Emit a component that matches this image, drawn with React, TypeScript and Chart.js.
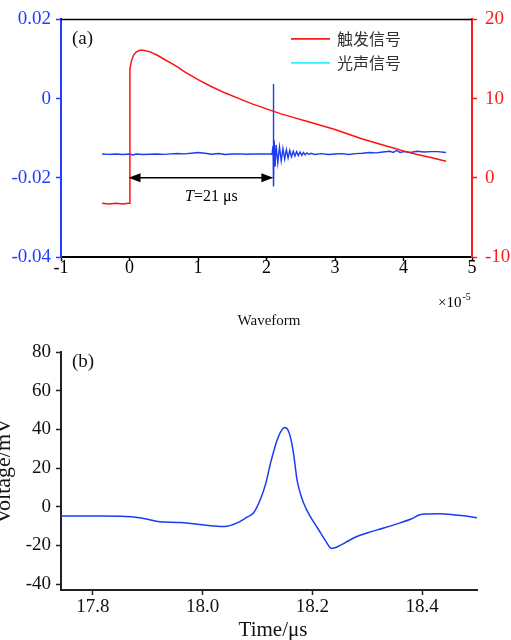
import React, { useEffect, useRef } from "react";
import { Chart, registerables } from "chart.js";

Chart.register(...registerables);

const SERIF = '"Liberation Serif", "Times New Roman", serif';
const CJK = '"Noto Sans CJK SC", "Noto Sans", sans-serif';

// ---------- Panel (a) data (x in units of 1e-5 s) ----------
const triggerX = [-0.4, -0.3, -0.2, -0.1, -0.01, 0.0, 0.006, 0.03, 0.06, 0.1, 0.15, 0.2, 0.3, 0.4, 0.5, 0.6, 0.7, 0.8, 0.9, 1.0, 1.2, 1.4, 1.6, 1.8, 2.0, 2.2, 2.4, 2.6, 2.8, 3.0, 3.2, 3.4, 3.6, 3.8, 4.0, 4.2, 4.4, 4.62];
const triggerY = [-3.2, -3.3, -3.2, -3.3, -3.2, -3.2, 13.8, 14.8, 15.5, 15.9, 16.1, 16.1, 15.9, 15.5, 15.0, 14.5, 14.0, 13.4, 12.9, 12.4, 11.5, 10.7, 10.0, 9.3, 8.7, 8.1, 7.6, 7.1, 6.6, 6.1, 5.5, 4.9, 4.4, 3.9, 3.4, 2.95, 2.55, 2.1];

const acousticX = [-0.4, -0.3, -0.2, -0.1, 0.0, 0.05, 0.1, 0.2, 0.3, 0.4, 0.5, 0.6, 0.7, 0.8, 0.9, 1.0, 1.1, 1.2, 1.3, 1.4, 1.5, 1.6, 1.7, 1.8, 1.9, 2.0, 2.06, 2.08, 2.095, 2.1, 2.105, 2.112, 2.125, 2.14, 2.165, 2.19, 2.215, 2.24, 2.265, 2.29, 2.315, 2.34, 2.365, 2.39, 2.415, 2.44, 2.465, 2.49, 2.515, 2.54, 2.565, 2.59, 2.62, 2.65, 2.7, 2.8, 2.9, 3.0, 3.1, 3.2, 3.3, 3.4, 3.5, 3.6, 3.7, 3.8, 3.85, 3.9, 3.95, 4.0, 4.1, 4.2, 4.3, 4.4, 4.5, 4.62];
const acousticY = [-0.014, -0.01408, -0.014, -0.01412, -0.014, -0.01425, -0.014, -0.01412, -0.01405, -0.014, -0.01408, -0.01395, -0.01388, -0.01395, -0.0138, -0.01362, -0.0138, -0.01405, -0.01388, -0.01412, -0.014, -0.01395, -0.01405, -0.014, -0.01395, -0.014, -0.014, -0.0141, -0.012, 0.0037, -0.0222, -0.0105, -0.0172, -0.0117, -0.0162, -0.0122, -0.0157, -0.0126, -0.0153, -0.0129, -0.015, -0.0131, -0.0147, -0.0133, -0.0145, -0.0134, -0.0144, -0.0135, -0.0143, -0.0136, -0.0142, -0.0137, -0.0141, -0.0138, -0.0141, -0.0139, -0.0141, -0.014, -0.0139, -0.0141, -0.0139, -0.0138, -0.0136, -0.0137, -0.0135, -0.0133, -0.0136, -0.0131, -0.0136, -0.0134, -0.0136, -0.0133, -0.0135, -0.0134, -0.0134, -0.0136];

const aXTicks = [-1, 0, 1, 2, 3, 4, 5];
const aLeftTicks = [-0.04, -0.02, 0, 0.02];
const aRightTicks = [-10, 0, 10, 20];
const aLegend = ["触发信号", "光声信号"];
const arrowFrom = 0;
const arrowTo = 2.1;
const arrowAt = -0.02;

// ---------- Panel (b) data (x in µs, y in mV) ----------
const waveX = [17.742, 17.8, 17.85, 17.87, 17.9, 17.918, 17.96, 18.0, 18.02, 18.04, 18.063, 18.08, 18.093, 18.105, 18.115, 18.124, 18.136, 18.145, 18.15, 18.155, 18.16, 18.166, 18.172, 18.178, 18.184, 18.196, 18.205, 18.215, 18.225, 18.235, 18.245, 18.26, 18.28, 18.3, 18.33, 18.36, 18.38, 18.396, 18.41, 18.433, 18.46, 18.48, 18.5];
const waveY = [-4.7, -4.8, -4.9, -5.2, -6.4, -7.6, -8.1, -9.3, -9.9, -10.2, -8.3, -5.5, -3.1, 3.6, 12, 22.8, 34.7, 40, 41, 40, 36, 27, 14, 7, 2, -5, -9, -13.5, -18, -21.5, -20.8, -18.5, -15.5, -13.5, -11, -8.3, -6.3, -4.1, -3.7, -3.6, -4.2, -4.8, -5.7];

const bXTicks = [17.8, 18.0, 18.2, 18.4];
const bYTicks = [-40, -20, 0, 20, 40, 60, 80];

const BLUE_AXIS = "#1f3cff";
const RED_AXIS = "#ff1a1a";

function fixedTicks(values: number[]) {
  return (scale: any) => {
    scale.ticks = values.map((v) => ({ value: v }));
  };
}

const annoA = {
  id: "annoA",
  afterDraw(chart: any) {
    const { ctx, chartArea: ca, scales } = chart;
    ctx.save();
    ctx.strokeStyle = "#000";
    ctx.lineWidth = 1.5;
    ctx.beginPath();
    ctx.moveTo(ca.left, ca.top);
    ctx.lineTo(ca.right, ca.top);
    ctx.stroke();

    ctx.fillStyle = "#111";
    ctx.font = `19px ${SERIF}`;
    ctx.textAlign = "left";
    ctx.textBaseline = "middle";
    ctx.fillText("(a)", ca.left + 11, ca.top + 20);

    const legColors = [RED_AXIS, "#33eeff"];
    const legY = [ca.top + 19.5, ca.top + 43.5];
    ctx.font = `16px ${CJK}`;
    aLegend.forEach((lab, i) => {
      ctx.strokeStyle = legColors[i];
      ctx.lineWidth = 1.6;
      ctx.beginPath();
      ctx.moveTo(291, legY[i]);
      ctx.lineTo(330, legY[i]);
      ctx.stroke();
      ctx.fillStyle = "#333";
      ctx.fillText(lab, 337, legY[i] + 0.5);
    });

    const x0 = scales.x.getPixelForValue(arrowFrom);
    const x1 = scales.x.getPixelForValue(arrowTo);
    const y = scales.y.getPixelForValue(arrowAt);
    ctx.strokeStyle = "#000";
    ctx.fillStyle = "#000";
    ctx.lineWidth = 1.5;
    ctx.beginPath();
    ctx.moveTo(x0 + 6, y);
    ctx.lineTo(x1 - 6, y);
    ctx.stroke();
    const head = (tip: number, dir: number) => {
      ctx.beginPath();
      ctx.moveTo(tip, y);
      ctx.lineTo(tip + dir * 12, y - 4.5);
      ctx.lineTo(tip + dir * 12, y + 4.5);
      ctx.closePath();
      ctx.fill();
    };
    head(x0 - 1, 1);
    head(x1, -1);

    ctx.textBaseline = "middle";
    ctx.textAlign = "left";
    ctx.font = `italic 16px ${SERIF}`;
    let tx = 185;
    const ty = y + 19;
    ctx.fillText("T", tx, ty);
    tx += ctx.measureText("T").width;
    ctx.font = `16px ${SERIF}`;
    ctx.fillText("=21 μs", tx, ty);

    ctx.textBaseline = "alphabetic";
    ctx.font = `15px ${SERIF}`;
    const bx = 438;
    const by = ca.bottom + 50;
    ctx.fillText("×10", bx, by);
    const w = ctx.measureText("×10").width;
    ctx.font = `10px ${SERIF}`;
    ctx.fillText("-5", bx + w + 1, by - 7);
    ctx.restore();
  },
};

const annoB = {
  id: "annoB",
  afterDraw(chart: any) {
    const { ctx, chartArea: ca } = chart;
    ctx.save();
    ctx.fillStyle = "#111";
    ctx.textBaseline = "middle";
    ctx.textAlign = "left";
    ctx.font = `19px ${SERIF}`;
    ctx.fillText("(b)", ca.left + 11, ca.top + 10);

    ctx.textAlign = "center";
    ctx.font = `15px ${SERIF}`;
    ctx.fillText("Waveform", (ca.left + ca.right) / 2, 11);

    ctx.font = `21px ${SERIF}`;
    ctx.fillText("Time/μs", 273, 320);

    ctx.save();
    ctx.translate(4, (ca.top + ca.bottom) / 2);
    ctx.rotate(-Math.PI / 2);
    ctx.font = `22px ${SERIF}`;
    ctx.fillText("Voltage/mV", 0, 0);
    ctx.restore();
    ctx.restore();
  },
};

function PanelA() {
  const ref = useRef<HTMLCanvasElement | null>(null);
  useEffect(() => {
    if (!ref.current) return;
    const chart = new Chart(ref.current, {
      type: "line",
      data: {
        datasets: [
          {
            label: aLegend[0],
            data: triggerX.map((x, i) => ({ x, y: triggerY[i] })),
            borderColor: "#ff1010",
            borderWidth: 1.5,
            pointRadius: 0,
            tension: 0,
            yAxisID: "y1",
          },
          {
            label: aLegend[1],
            data: acousticX.map((x, i) => ({ x, y: acousticY[i] })),
            borderColor: "#1a3cf5",
            borderWidth: 1.4,
            pointRadius: 0,
            tension: 0,
            yAxisID: "y",
          },
        ],
      },
      options: {
        responsive: false,
        animation: false,
        layout: { padding: { top: 18, left: 0, right: 0, bottom: 0 } },
        plugins: { legend: { display: false }, tooltip: { enabled: false } },
        scales: {
          x: {
            type: "linear",
            position: "bottom",
            min: -1,
            max: 5,
            afterBuildTicks: fixedTicks(aXTicks),
            afterFit: (s: any) => {
              s.height = 53;
            },
            grid: { drawOnChartArea: false, drawTicks: true, tickLength: 4, color: "#000", tickWidth: 1.5 },
            border: { display: true, color: "#000", width: 2 },
            ticks: {
              color: "#000",
              font: { family: SERIF, size: 18 },
              padding: -4,
              maxRotation: 0,
              autoSkip: false,
              callback: (v: any) => String(v),
            },
          },
          y: {
            type: "linear",
            position: "left",
            min: -0.04,
            max: 0.02,
            afterBuildTicks: fixedTicks(aLeftTicks),
            afterFit: (s: any) => {
              s.width = 61;
            },
            grid: { drawOnChartArea: false, drawTicks: true, tickLength: 5, color: BLUE_AXIS, tickWidth: 1.5 },
            border: { display: true, color: BLUE_AXIS, width: 2 },
            ticks: {
              color: BLUE_AXIS,
              font: { family: SERIF, size: 19 },
              padding: 5,
              autoSkip: false,
              callback: (v: any) => String(v),
            },
          },
          y1: {
            type: "linear",
            position: "right",
            min: -10,
            max: 20,
            afterBuildTicks: fixedTicks(aRightTicks),
            afterFit: (s: any) => {
              s.width = 39;
            },
            grid: { drawOnChartArea: false, drawTicks: true, tickLength: 5, color: RED_AXIS, tickWidth: 1.5 },
            border: { display: true, color: RED_AXIS, width: 2 },
            ticks: {
              color: RED_AXIS,
              font: { family: SERIF, size: 19 },
              padding: 8,
              autoSkip: false,
              callback: (v: any) => String(v),
            },
          },
        },
      },
      plugins: [annoA],
    } as any);
    return () => chart.destroy();
  }, []);
  return <canvas ref={ref} width={511} height={310} style={{ display: "block", width: 511, height: 310 }} />;
}

function PanelB() {
  const ref = useRef<HTMLCanvasElement | null>(null);
  useEffect(() => {
    if (!ref.current) return;
    const chart = new Chart(ref.current, {
      type: "line",
      data: {
        datasets: [
          {
            label: "Waveform",
            data: waveX.map((x, i) => ({ x, y: waveY[i] })),
            borderColor: "#1a3cf0",
            borderWidth: 1.5,
            pointRadius: 0,
            tension: 0.35,
            cubicInterpolationMode: "monotone",
          },
        ],
      },
      options: {
        responsive: false,
        animation: false,
        layout: { padding: { top: 42, left: 0, right: 34, bottom: 0 } },
        plugins: { legend: { display: false }, tooltip: { enabled: false } },
        scales: {
          x: {
            type: "linear",
            min: 17.742,
            max: 18.5,
            afterBuildTicks: fixedTicks(bXTicks),
            afterFit: (s: any) => {
              s.height = 50;
            },
            grid: { drawOnChartArea: false, drawTicks: true, tickLength: 5, color: "#222", tickWidth: 1.5 },
            border: { display: true, color: "#222", width: 2 },
            ticks: {
              color: "#111",
              font: { family: SERIF, size: 19 },
              padding: 1,
              maxRotation: 0,
              autoSkip: false,
              callback: (v: any) => Number(v).toFixed(1),
            },
          },
          y: {
            type: "linear",
            min: -43,
            max: 80,
            afterBuildTicks: fixedTicks(bYTicks),
            afterFit: (s: any) => {
              s.width = 61;
            },
            grid: { drawOnChartArea: false, drawTicks: true, tickLength: 5, color: "#222", tickWidth: 1.5 },
            border: { display: true, color: "#222", width: 2 },
            ticks: {
              color: "#111",
              font: { family: SERIF, size: 19 },
              padding: 5,
              autoSkip: false,
              callback: (v: any) => String(v),
            },
          },
        },
      },
      plugins: [annoB],
    } as any);
    return () => chart.destroy();
  }, []);
  return <canvas ref={ref} width={511} height={330} style={{ display: "block", width: 511, height: 330 }} />;
}

export default function App() {
  return (
    <div style={{ position: "absolute", left: 0, top: 0, width: 511, height: 640, background: "#fff", overflow: "hidden" }}>
      <PanelA />
      <PanelB />
    </div>
  );
}
